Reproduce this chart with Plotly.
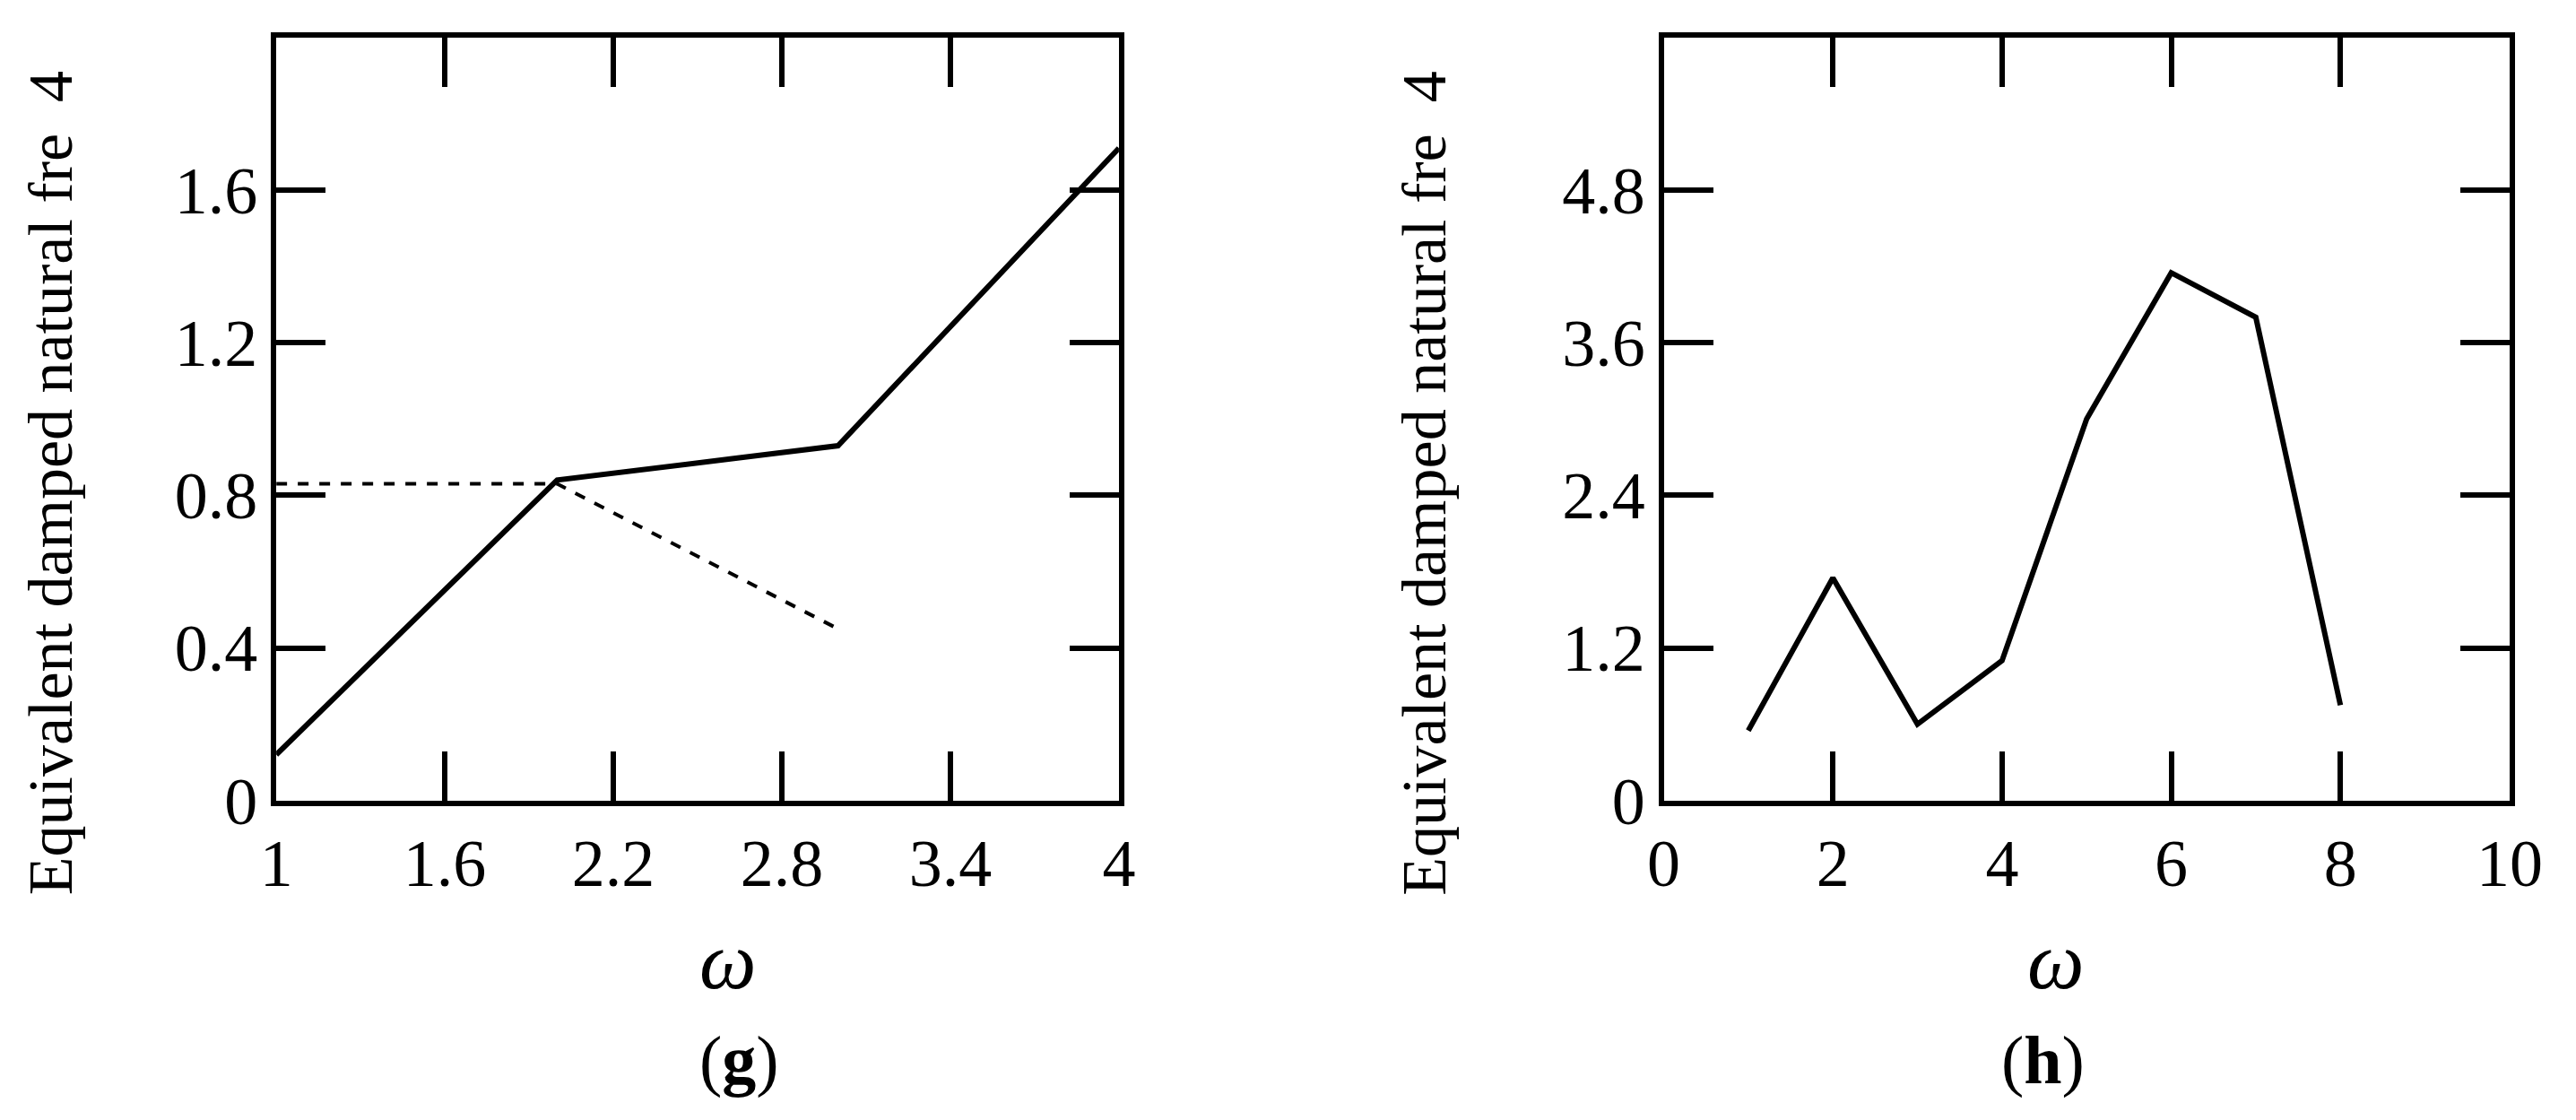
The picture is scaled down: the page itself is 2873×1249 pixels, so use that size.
import plotly.graph_objects as go

g_x = [1, 2, 3, 4]
g_solid = [0.12, 0.84, 0.93, 1.71]
g_dash_x = [1, 2, 3]
g_dash = [0.83, 0.83, 0.45]
h_x = [1, 2, 3, 4, 5, 6, 7, 8]
h_y = [0.55, 1.75, 0.60, 1.10, 3.00, 4.15, 3.80, 0.75]
g_xt = [1, 1.6, 2.2, 2.8, 3.4, 4]
g_xl = ["1", "1.6", "2.2", "2.8", "3.4", "4"]
g_yt = [0, 0.4, 0.8, 1.2, 1.6, 2]
g_yl = ["0", "0.4", "0.8", "1.2", "1.6", "2"]
h_xt = [0, 2, 4, 6, 8, 10]
h_yt = [0, 1.2, 2.4, 3.6, 4.8, 6]
h_yl = ["0", "1.2", "2.4", "3.6", "4.8", "6"]
ytitle = "Equivalent damped natural fre  4"

F = "Liberation Serif"
fig = go.Figure()
fig.add_trace(go.Scatter(x=g_x, y=g_solid, mode="lines", line=dict(color="black", width=6), xaxis="x", yaxis="y"))
fig.add_trace(go.Scatter(x=g_dash_x, y=g_dash, mode="lines", line=dict(color="black", width=4, dash="dash"), xaxis="x", yaxis="y"))
fig.add_trace(go.Scatter(x=h_x, y=h_y, mode="lines", line=dict(color="black", width=6), xaxis="x2", yaxis="y2"))

ax = dict(showline=True, linecolor="black", linewidth=6, mirror="allticks", ticks="inside",
          ticklen=55, tickwidth=6, tickcolor="black", showgrid=False, zeroline=False,
          tickfont=dict(family=F, size=74, color="black"))
yd = [0.267, 0.972]
fig.update_layout(
    width=2873, height=1249, margin=dict(l=0, r=0, t=0, b=0),
    paper_bgcolor="white", plot_bgcolor="white", showlegend=False,
    xaxis=dict(ax, domain=[0.0998, 0.4334], range=[1, 4], tickvals=g_xt, ticktext=g_xl, anchor="y"),
    yaxis=dict(ax, domain=yd, range=[0, 2], tickvals=g_yt, ticktext=g_yl, anchor="x"),
    xaxis2=dict(ax, domain=[0.6491, 0.984], range=[0, 10], tickvals=h_xt, anchor="y2"),
    yaxis2=dict(ax, domain=yd, range=[0, 6], tickvals=h_yt, ticktext=h_yl, anchor="x2"),
)
ann = []
for cx, ty, lab in [(0.2666, -0.004, "g"), (0.8165, 0.554, "h")]:
    ann.append(dict(text="<i>ω</i>", x=cx, y=0.076, xref="paper", yref="paper",
                    showarrow=False, font=dict(family=F, size=90, color="black")))
    ann.append(dict(text="(<b>%s</b>)" % lab, x=cx, y=-0.01, xref="paper", yref="paper",
                    showarrow=False, font=dict(family=F, size=76, color="black")))
    ann.append(dict(text=ytitle, x=ty, y=0.56, xref="paper", yref="paper",
                    textangle=-90, showarrow=False, font=dict(family=F, size=70, color="black")))
fig.update_layout(annotations=ann)
fig.write_html("out.html")
